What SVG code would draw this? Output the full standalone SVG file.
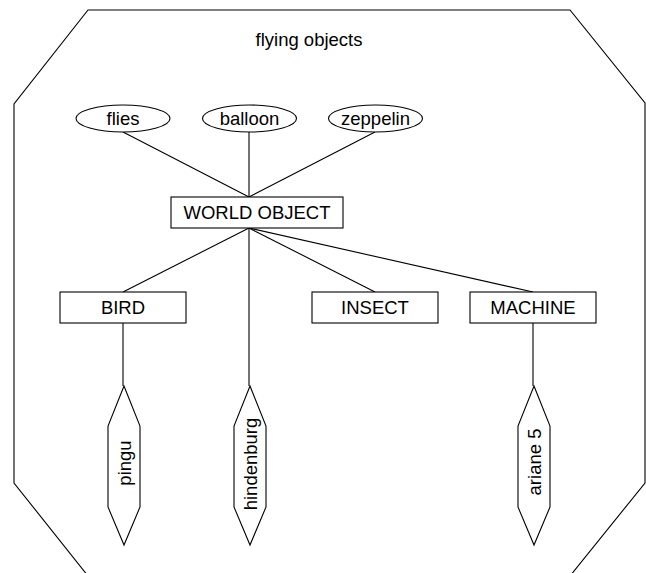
<svg xmlns="http://www.w3.org/2000/svg" width="646" height="573" viewBox="0 0 646 573">
  <style>
    .shape { fill: #ffffff; stroke: #000000; stroke-width: 1.1; }
    .edge { fill: none; stroke: #000000; stroke-width: 1.1; }
    .label { font-family: "Liberation Sans", Arial, sans-serif; font-size: 18.5px; fill: #000000; text-anchor: middle; }
  </style>
  <rect width="646" height="573" fill="#ffffff"/>

  <!-- outer container -->
  <g id="flying-objects">
    <polygon class="edge" points="88,10 570,10 645,103 645,483 570,576 88,576 14,483 14,104"/>
    <text class="label" x="309" y="46">flying objects</text>
  </g>

  <!-- connectors -->
  <g id="connectors">
    <line class="edge" x1="123" y1="132" x2="249" y2="197"/>
    <line class="edge" x1="249" y1="132" x2="249" y2="197"/>
    <line class="edge" x1="375" y1="132" x2="249" y2="197"/>
    <line class="edge" x1="249" y1="228" x2="123" y2="292"/>
    <line class="edge" x1="249" y1="228" x2="249" y2="386"/>
    <line class="edge" x1="249" y1="228" x2="375" y2="292"/>
    <line class="edge" x1="249" y1="228" x2="533" y2="292"/>
    <line class="edge" x1="123" y1="323" x2="123" y2="386"/>
    <line class="edge" x1="533" y1="323" x2="533" y2="386"/>
  </g>

  <!-- attribute ellipses -->
  <g id="flies">
    <ellipse class="shape" cx="123" cy="118.5" rx="47" ry="13.5"/>
    <text class="label" x="123" y="125">flies</text>
  </g>
  <g id="balloon">
    <ellipse class="shape" cx="249.5" cy="118.5" rx="47" ry="13.5"/>
    <text class="label" x="249.5" y="125">balloon</text>
  </g>
  <g id="zeppelin">
    <ellipse class="shape" cx="375.5" cy="118.5" rx="47" ry="13.5"/>
    <text class="label" x="375.5" y="125">zeppelin</text>
  </g>

  <!-- class boxes -->
  <g id="world-object">
    <rect class="shape" x="171" y="197" width="172" height="31"/>
    <text class="label" x="257" y="219">WORLD OBJECT</text>
  </g>
  <g id="bird">
    <rect class="shape" x="60" y="292" width="126" height="31"/>
    <text class="label" x="123" y="314">BIRD</text>
  </g>
  <g id="insect">
    <rect class="shape" x="312" y="292" width="126" height="31"/>
    <text class="label" x="375" y="314">INSECT</text>
  </g>
  <g id="machine">
    <rect class="shape" x="470" y="292" width="126" height="31"/>
    <text class="label" x="533" y="314">MACHINE</text>
  </g>

  <!-- instance hexagons -->
  <g id="pingu">
    <polygon class="shape" points="124,386 140,426 140,507 124,545 108,507 108,426"/>
    <text class="label" transform="translate(124,463) rotate(-90)" x="0" y="6.5">pingu</text>
  </g>
  <g id="hindenburg">
    <polygon class="shape" points="250,386 266,426 266,507 250,545 234,507 234,426"/>
    <text class="label" transform="translate(250,464) rotate(-90)" x="0" y="6.5">hindenburg</text>
  </g>
  <g id="ariane-5">
    <polygon class="shape" points="534,386 550,426 550,507 534,545 518,507 518,426"/>
    <text class="label" transform="translate(534,462) rotate(-90)" x="0" y="6.5">ariane 5</text>
  </g>
</svg>
